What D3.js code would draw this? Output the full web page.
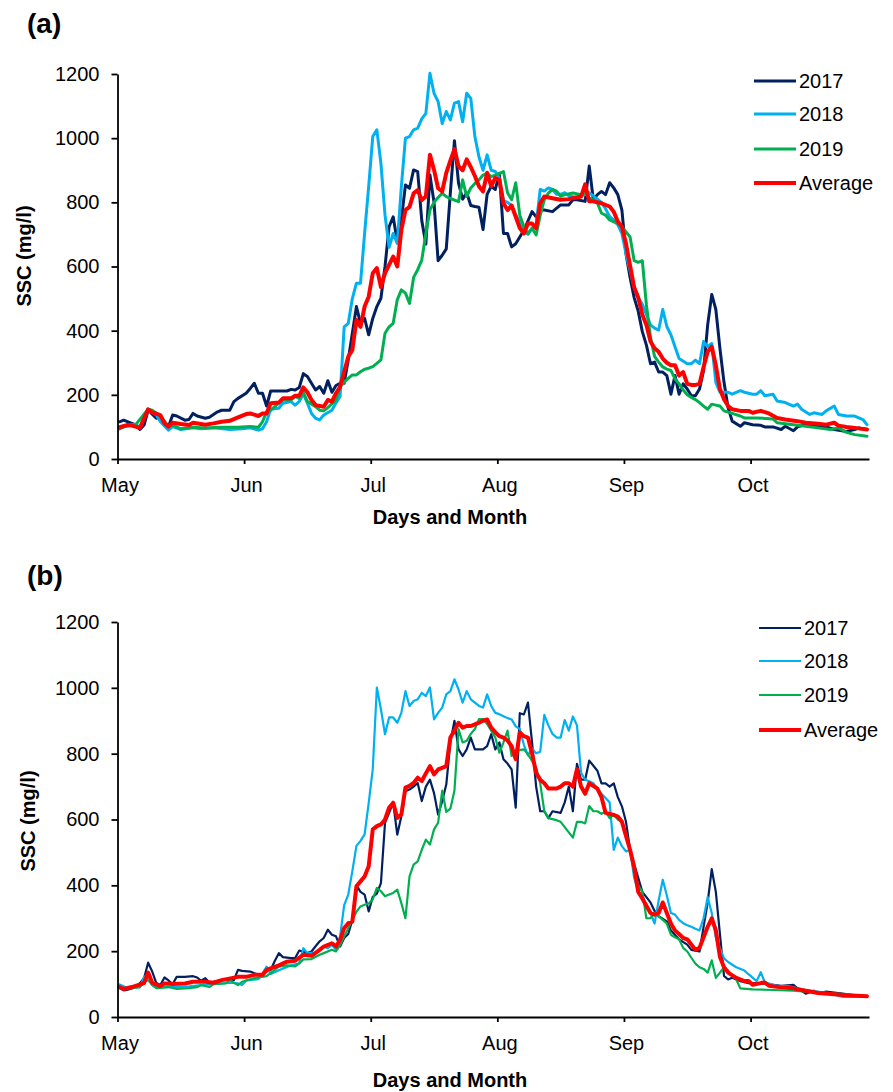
<!DOCTYPE html>
<html>
<head>
<meta charset="utf-8">
<script src="https://cdn.jsdelivr.net/npm/d3@7"></script>
<style>
  body { margin: 0; background: #fff; }
  svg { display: block; }
  text { font-family: Arial, "Liberation Sans", sans-serif; fill: #000; }
</style>
</head>
<body>
<svg id="chart"></svg>
<script>
// daily SSC (mg/l), [day since 1 May, value]
var a2017 = [[0,116],[1,121],[3,111],[4,106],[5,92],[6,106],[7,152],[9,127],[10,132],[12,101],[13,137],[14,134],[16,121],[17,123],[18,142],[19,134],[21,127],[22,130],[24,147],[25,152],[27,152],[28,179],[29,189],[31,205],[32,220],[33,236],[34,205],[35,205],[36,165],[37,212],[41,212],[42,217],[43,215],[44,223],[45,266],[46,257],[47,236],[48,215],[49,226],[50,205],[51,244],[52,208],[53,229],[54,236],[55,236],[56,309],[57,392],[58,475],[59,423],[60,438],[61,387],[62,438],[63,475],[64,501],[65,600],[66,724],[67,755],[68,677],[69,745],[70,854],[71,844],[72,901],[73,896],[74,743],[75,670],[76,885],[77,800],[78,618],[79,635],[80,655],[81,830],[82,992],[83,860],[84,810],[85,830],[86,790],[87,787],[88,785],[89,715],[90,825],[91,850],[92,840],[93,890],[94,703],[95,703],[96,661],[97,671],[98,692],[99,713],[101,771],[102,755],[103,776],[104,776],[106,771],[108,792],[110,792],[111,808],[112,808],[114,803],[115,913],[116,808],[117,824],[118,834],[119,824],[120,861],[121,845],[122,824],[123,776],[124,640],[125,566],[126,503],[127,460],[128,397],[129,355],[130,297],[131,302],[132,271],[133,271],[134,260],[135,202],[136,260],[137,202],[138,234],[139,218],[140,197],[141,197],[142,218],[143,276],[144,418],[145,513],[146,466],[147,345],[148,239],[149,160],[150,118],[152,102],[153,113],[155,107],[157,105],[158,100],[160,100],[162,92],[163,102],[165,88],[166,100],[168,107],[170,107],[173,100],[175,92],[178,86],[180,92],[181,97],[182,94],[183,92]];
var a2018 = [[0,97],[2,103],[4,106],[5,100],[7,152],[9,137],[10,116],[12,90],[13,101],[15,92],[18,97],[20,94],[23,97],[27,92],[30,94],[32,97],[34,90],[35,94],[36,116],[37,155],[39,158],[40,174],[42,179],[43,168],[44,179],[45,203],[46,174],[47,142],[48,127],[49,122],[50,137],[52,152],[53,175],[54,195],[55,412],[56,423],[57,500],[58,548],[59,548],[60,703],[61,849],[62,1005],[63,1026],[64,921],[65,760],[66,660],[67,703],[68,672],[69,849],[70,1000],[71,1005],[72,1026],[73,1031],[74,1060],[75,1077],[76,1202],[77,1140],[78,1114],[79,1046],[80,1083],[81,1057],[82,1109],[83,1114],[84,1051],[85,1140],[86,1124],[87,1005],[88,942],[89,900],[90,948],[91,900],[92,896],[93,875],[94,805],[95,800],[96,790],[97,760],[98,740],[99,710],[100,700],[101,720],[102,730],[103,840],[104,835],[105,845],[106,840],[107,825],[108,825],[109,830],[110,820],[112,815],[114,825],[115,830],[116,820],[117,810],[118,800],[119,780],[120,755],[121,745],[122,730],[123,703],[124,640],[126,535],[127,503],[128,482],[130,418],[131,408],[132,402],[133,466],[134,413],[135,387],[136,350],[137,313],[139,297],[140,297],[141,308],[142,297],[143,366],[144,350],[145,360],[146,239],[147,208],[149,208],[150,202],[152,213],[153,208],[155,202],[156,202],[157,213],[158,197],[160,202],[161,181],[163,176],[165,165],[166,171],[167,155],[169,139],[170,144],[172,139],[173,150],[175,165],[176,139],[178,134],[180,134],[182,123],[183,107]];
var a2019 = [[0,94],[2,106],[4,108],[7,155],[8,152],[10,134],[12,101],[13,106],[15,94],[18,99],[21,97],[25,99],[29,99],[32,101],[34,99],[35,116],[36,147],[37,152],[39,174],[40,184],[42,184],[43,195],[44,189],[45,208],[46,179],[48,163],[49,152],[50,150],[51,160],[53,184],[54,225],[55,240],[56,251],[57,262],[58,262],[59,272],[60,280],[61,283],[62,288],[63,298],[64,309],[65,392],[66,412],[67,423],[68,496],[69,527],[70,517],[71,485],[72,566],[73,590],[74,620],[75,703],[76,776],[77,800],[78,815],[79,828],[80,818],[81,812],[82,807],[83,802],[84,870],[85,818],[86,845],[87,859],[88,870],[89,885],[90,890],[91,880],[92,885],[93,890],[94,896],[95,830],[96,808],[97,861],[98,760],[99,724],[100,703],[101,719],[102,698],[103,760],[104,808],[105,829],[106,840],[107,835],[108,819],[109,824],[111,829],[113,824],[114,829],[115,813],[116,808],[117,798],[118,766],[119,760],[120,745],[122,734],[123,724],[124,708],[125,692],[126,618],[127,613],[128,618],[129,480],[130,380],[131,320],[132,302],[133,287],[134,280],[135,276],[136,250],[137,234],[138,215],[139,200],[140,192],[141,185],[142,176],[143,165],[144,155],[145,171],[146,168],[147,165],[148,150],[150,142],[152,134],[153,128],[156,128],[160,125],[161,113],[165,107],[168,102],[171,97],[174,92],[176,97],[178,83],[180,76],[183,71]];
var aAvg = [[0,99],[2,106],[3,104],[5,97],[7,155],[8,145],[10,137],[11,111],[12,101],[13,113],[15,109],[17,106],[18,113],[21,107],[23,111],[25,116],[27,119],[29,130],[31,140],[32,142],[34,134],[35,142],[36,142],[37,174],[39,176],[40,189],[42,189],[43,197],[44,197],[45,223],[46,208],[47,184],[48,168],[50,163],[51,184],[52,179],[53,205],[54,225],[55,272],[56,319],[57,340],[58,433],[59,412],[60,475],[61,506],[62,579],[63,595],[64,536],[65,579],[66,605],[67,631],[68,600],[69,714],[70,776],[71,786],[72,828],[73,838],[74,807],[75,818],[76,948],[77,901],[78,844],[79,834],[80,892],[81,930],[82,966],[83,913],[84,900],[85,934],[86,910],[87,882],[88,850],[89,834],[90,892],[91,850],[92,876],[93,870],[94,797],[95,776],[96,790],[97,755],[98,720],[99,703],[100,734],[101,734],[102,719],[103,797],[104,818],[106,813],[108,808],[110,810],[111,813],[113,818],[114,856],[115,803],[116,803],[118,797],[120,787],[121,771],[122,740],[123,724],[124,671],[125,603],[126,535],[127,503],[128,450],[129,418],[130,366],[131,345],[132,334],[133,313],[134,300],[135,292],[136,292],[137,260],[138,271],[139,234],[140,231],[141,231],[142,234],[143,287],[144,334],[145,350],[146,292],[147,218],[148,186],[149,165],[150,155],[152,150],[154,150],[155,144],[157,150],[159,142],[161,128],[163,123],[166,118],[168,113],[171,110],[173,107],[175,113],[176,104],[178,100],[180,97],[183,92]];

var b2017 = [[0,88],[1,81],[2,83],[4,91],[5,103],[6,118],[7,165],[8,138],[9,103],[10,97],[11,120],[12,111],[13,100],[14,122],[16,122],[18,124],[19,120],[20,110],[21,118],[22,104],[23,107],[25,112],[28,112],[29,143],[30,140],[32,138],[34,128],[35,128],[36,138],[37,143],[38,170],[39,194],[40,182],[42,179],[43,179],[44,202],[46,194],[47,199],[48,215],[49,230],[50,240],[51,265],[52,250],[53,245],[54,214],[55,240],[56,252],[57,295],[58,400],[59,380],[60,372],[61,321],[62,365],[63,375],[64,407],[65,590],[66,620],[67,651],[68,554],[69,610],[70,686],[71,691],[72,700],[73,711],[74,656],[75,700],[76,721],[77,680],[78,615],[79,656],[80,706],[81,834],[82,900],[83,813],[84,793],[85,813],[86,849],[87,813],[89,813],[90,823],[91,859],[92,813],[93,834],[94,783],[95,770],[96,752],[97,636],[98,923],[99,919],[100,955],[101,834],[102,700],[103,625],[104,625],[105,604],[106,625],[108,620],[109,652],[110,700],[111,625],[112,769],[113,721],[114,721],[115,779],[117,748],[118,710],[119,710],[120,700],[121,710],[122,668],[123,640],[124,593],[125,508],[126,465],[127,423],[128,380],[130,348],[131,322],[132,306],[134,290],[135,263],[137,236],[139,220],[140,204],[142,199],[143,274],[144,348],[145,449],[146,380],[147,252],[148,125],[149,114],[150,119],[152,109],[154,103],[155,103],[158,101],[160,98],[162,95],[165,98],[166,87],[168,71],[170,80],[171,71],[173,77],[177,71],[180,66],[183,63]];
var b2018 = [[0,99],[2,88],[5,91],[6,122],[7,128],[8,97],[9,91],[12,91],[14,91],[17,93],[20,97],[23,100],[27,104],[29,102],[30,97],[31,111],[34,115],[35,131],[36,153],[37,131],[40,147],[42,157],[44,163],[45,209],[46,194],[48,196],[49,204],[50,214],[51,209],[52,219],[53,204],[54,245],[55,340],[56,372],[57,443],[58,520],[59,535],[60,555],[61,650],[62,753],[63,1001],[64,935],[65,859],[66,910],[67,910],[68,894],[69,924],[70,990],[71,945],[72,960],[73,965],[74,985],[75,975],[76,1001],[77,904],[78,924],[79,940],[80,980],[81,990],[82,1026],[83,995],[84,955],[85,990],[86,965],[87,955],[88,945],[89,940],[90,980],[91,945],[92,924],[93,920],[94,914],[95,908],[96,904],[97,883],[98,875],[99,827],[100,795],[101,816],[102,801],[103,806],[104,918],[105,886],[106,860],[107,849],[108,849],[109,902],[110,870],[111,913],[112,886],[113,742],[114,721],[115,716],[116,710],[117,694],[118,678],[119,665],[120,652],[121,508],[122,545],[123,519],[124,503],[125,508],[126,423],[127,380],[128,369],[129,338],[130,316],[131,284],[132,354],[133,417],[134,369],[135,316],[136,311],[137,295],[138,285],[139,279],[140,274],[141,268],[142,263],[143,300],[144,364],[145,316],[146,242],[147,210],[148,178],[149,167],[151,151],[153,141],[154,130],[156,109],[157,136],[158,105],[161,95],[164,93],[168,82],[171,77],[174,71],[177,61],[180,61],[183,63]];
var b2019 = [[0,88],[3,88],[5,91],[6,107],[7,112],[8,97],[9,88],[12,91],[14,85],[17,88],[19,91],[20,97],[22,91],[23,100],[26,102],[27,112],[29,97],[30,107],[33,118],[36,124],[38,143],[39,153],[41,157],[43,154],[44,163],[45,175],[47,176],[49,189],[50,194],[52,204],[53,199],[54,219],[55,245],[56,270],[57,295],[58,320],[59,336],[60,341],[61,345],[62,357],[63,392],[64,382],[65,367],[66,372],[67,377],[68,387],[69,346],[70,300],[71,427],[72,463],[73,473],[74,508],[75,539],[76,524],[77,570],[78,590],[79,688],[80,623],[81,633],[82,688],[83,875],[84,834],[85,839],[86,860],[87,875],[88,905],[89,905],[90,890],[91,870],[92,849],[93,803],[94,834],[95,870],[96,793],[97,803],[98,811],[99,813],[100,798],[101,778],[102,758],[103,710],[104,625],[105,604],[107,598],[108,593],[110,561],[111,545],[112,593],[113,593],[114,588],[115,641],[116,625],[117,625],[118,617],[119,625],[120,604],[121,614],[122,600],[123,593],[124,561],[125,508],[126,444],[127,400],[128,380],[129,300],[130,300],[131,316],[132,306],[133,295],[134,284],[135,250],[136,242],[137,236],[138,210],[139,199],[140,180],[141,162],[142,151],[143,146],[144,135],[145,172],[146,119],[147,135],[148,151],[149,141],[150,125],[151,114],[152,87],[155,84],[160,82],[165,80],[168,77],[173,73],[178,69],[183,63]];
var bAvg = [[0,91],[1,85],[3,91],[6,103],[7,135],[8,104],[10,94],[11,102],[13,100],[16,102],[18,107],[21,107],[23,104],[25,112],[29,122],[31,122],[33,128],[35,128],[36,143],[39,157],[41,168],[43,171],[45,189],[47,186],[49,204],[50,214],[52,224],[53,214],[54,234],[55,270],[56,285],[57,290],[58,397],[59,412],[60,427],[61,458],[62,570],[63,580],[64,585],[65,600],[66,636],[67,651],[68,605],[69,615],[70,697],[71,702],[72,711],[73,727],[74,717],[75,740],[76,762],[77,737],[78,752],[79,757],[80,762],[81,849],[82,870],[83,894],[84,879],[85,884],[86,884],[87,889],[88,894],[89,900],[90,904],[91,879],[92,865],[93,853],[94,849],[95,840],[96,823],[97,783],[98,864],[99,853],[100,849],[101,800],[102,742],[103,721],[104,710],[105,694],[107,694],[108,700],[109,710],[110,710],[111,700],[112,753],[113,700],[114,678],[115,710],[117,694],[118,668],[119,620],[121,614],[122,609],[123,593],[124,550],[125,508],[126,455],[127,380],[128,360],[129,338],[130,316],[131,311],[132,316],[133,348],[134,316],[135,284],[136,263],[137,252],[138,240],[139,236],[140,220],[141,204],[142,210],[143,242],[144,274],[145,300],[146,263],[147,183],[148,151],[149,135],[151,119],[153,109],[154,109],[155,98],[157,103],[158,105],[159,95],[162,90],[165,87],[168,80],[171,73],[175,69],[178,66],[183,63]];

var seriesNames = ["2017", "2018", "2019", "Average"];
var seriesColors = ["#002060", "#00b0f0", "#00b050", "#ff0000"];
var monthLabels = ["May", "Jun", "Jul", "Aug", "Sep", "Oct"];
var monthStartDays = [0, 31, 62, 93, 124, 155];
var yTicks = [0, 200, 400, 600, 800, 1000, 1200];
var nDays = 184;

var width = 893, height = 1092;

var svg = d3.select("#chart")
  .attr("width", width)
  .attr("height", height);

var panels = [
  { tag: "(a)", tagY: 33, top: 74, bottom: 459, data: [a2017, a2018, a2019, aAvg],
    lineW: [3, 3, 3, 4], yTitleX: 24, yTitleY: 256, xTitleY: 524,
    legX: 754, legY: [81, 114, 149, 183] },
  { tag: "(b)", tagY: 585, top: 622, bottom: 1017, data: [b2017, b2018, b2019, bAvg],
    lineW: [2.2, 2.2, 2.2, 4], yTitleX: 28, yTitleY: 821, xTitleY: 1087,
    legX: 759, legY: [628, 661, 695, 730] }
];

var left = 117.5, right = 869;

// category axis: 184 days, points sit in the middle of each day
var x = d3.scaleLinear().domain([0, nDays]).range([left, right]);

panels.forEach(function(p) {
  var y = d3.scaleLinear().domain([0, 1200]).range([p.bottom, p.top]);
  var g = svg.append("g");

  var line = d3.line()
    .x(function(d) { return x(d[0] + 0.5); })
    .y(function(d) { return y(d[1]); });

  g.append("g").selectAll("path")
    .data(p.data)
  .enter().append("path")
    .attr("d", line)
    .attr("fill", "none")
    .attr("stroke", function(d, i) { return seriesColors[i]; })
    .attr("stroke-width", function(d, i) { return p.lineW[i]; })
    .attr("stroke-linejoin", "round")
    .attr("stroke-linecap", "round");

  // y axis
  var yAxis = g.append("g")
    .attr("transform", "translate(" + left + ",0)")
    .call(d3.axisLeft(y).tickValues(yTicks).tickFormat(d3.format("d"))
      .tickSize(6).tickSizeOuter(0).tickPadding(12));
  yAxis.select(".domain").attr("stroke", "#000").attr("stroke-width", 1.8);
  yAxis.selectAll(".tick line").attr("stroke", "#000").attr("stroke-width", 1.8);
  yAxis.selectAll("text").attr("font-size", 20).attr("font-family", "Arial, 'Liberation Sans', sans-serif");

  // x axis
  var xAxis = g.append("g")
    .attr("transform", "translate(0," + p.bottom + ")")
    .call(d3.axisBottom(x).tickValues(monthStartDays)
      .tickFormat(function(d, i) { return monthLabels[i]; })
      .tickSize(5).tickSizeOuter(0).tickPadding(14));
  xAxis.select(".domain").attr("stroke", "#000").attr("stroke-width", 1.8);
  xAxis.selectAll(".tick line").attr("stroke", "#000").attr("stroke-width", 1.8);
  xAxis.selectAll("text").attr("font-size", 20).attr("dx", 2)
    .attr("font-family", "Arial, 'Liberation Sans', sans-serif");

  // titles
  svg.append("text")
    .attr("x", 27).attr("y", p.tagY)
    .attr("font-size", 28).attr("font-weight", "bold")
    .text(p.tag);

  svg.append("text")
    .attr("transform", "translate(" + p.yTitleX + "," + p.yTitleY + ") rotate(-90)")
    .attr("text-anchor", "middle").attr("dy", "0.35em")
    .attr("font-size", 20).attr("font-weight", "bold")
    .text("SSC (mg/l)");

  svg.append("text")
    .attr("x", 450).attr("y", p.xTitleY)
    .attr("text-anchor", "middle")
    .attr("font-size", 20).attr("font-weight", "bold")
    .text("Days and Month");

  // legend
  var leg = g.append("g").selectAll("g")
    .data(seriesNames)
  .enter().append("g")
    .attr("transform", function(d, i) { return "translate(" + p.legX + "," + p.legY[i] + ")"; });

  leg.append("line")
    .attr("x1", 0).attr("x2", 42)
    .attr("stroke", function(d, i) { return seriesColors[i]; })
    .attr("stroke-width", function(d, i) { return p.lineW[i]; });

  leg.append("text")
    .attr("x", 45).attr("dy", "0.35em")
    .attr("font-size", 20)
    .text(function(d) { return d; });
});
</script>
</body>
</html>
